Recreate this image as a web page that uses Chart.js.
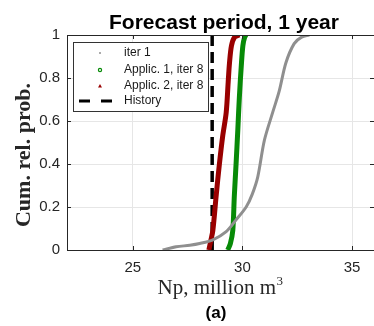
<!DOCTYPE html>
<html>
<head>
<meta charset="utf-8">
<script src="https://cdn.jsdelivr.net/npm/chart.js@4"></script>
<style>
  html, body { margin: 0; padding: 0; background: #fff; }
  #wrap { position: relative; width: 374px; height: 326px; }
</style>
</head>
<body>
<div id="wrap"><canvas id="cdfChart" width="374" height="326"></canvas></div>
<script>
// ===== Cumulative production CDFs, 1 year forecast =====

const xTicks = [25, 30, 35];
const yTicks = [0, 0.2, 0.4, 0.6, 0.8, 1];

// iter 1 ensemble (gray)
const iter1Np = [26.36, 26.98, 27.6, 28.05, 28.65, 29.26, 29.71, 30.17, 30.45, 30.7, 31.0, 31.38, 31.68, 31.98, 32.36, 32.7, 33.05];
const iter1Prob = [0, 0.015, 0.022, 0.03, 0.047, 0.085, 0.14, 0.2, 0.26, 0.34, 0.51, 0.64, 0.74, 0.87, 0.96, 0.99, 1.0];

// Application 1, iter 8 (green)
const app1Np = [29.33, 29.45, 29.56, 29.63, 29.71, 29.79, 29.86, 29.95, 30.02, 30.1, 30.17];
const app1Prob = [0, 0.03, 0.09, 0.25, 0.4, 0.56, 0.71, 0.86, 0.95, 0.99, 1.0];

// Application 2, iter 8 (dark red)
const app2Np = [28.47, 28.55, 28.65, 28.8, 28.95, 29.1, 29.26, 29.35, 29.41, 29.5, 29.64, 29.86];
const app2Prob = [0, 0.04, 0.09, 0.25, 0.4, 0.53, 0.64, 0.78, 0.87, 0.95, 0.99, 1.0];

// observed history
const historyNp = 28.62;
const historyProb = [0, 1];

const legendItems = ['iter 1', 'Applic. 1, iter 8', 'Applic. 2, iter 8', 'History'];

const GRAY = '#8f8f8f';
const GREEN = '#078a07';
const RED = '#990000';
const AXIS = '#262626';

const toPts = (xs, ys) => xs.map((x, i) => ({ x, y: ys[i] }));

// box, inner ticks, titles and legend drawn over the plot
const decor = {
  id: 'decor',
  afterDatasetsDraw(chart) {
    const { ctx, chartArea: a, scales } = chart;
    const xs = scales.x, ys = scales.y;
    ctx.save();
    ctx.strokeStyle = AXIS;
    ctx.lineWidth = 1;
    ctx.beginPath();
    ctx.moveTo(a.left + 0.5, a.top + 0.5);
    ctx.lineTo(a.right + 0.5, a.top + 0.5);
    ctx.moveTo(a.left + 0.5, a.top);
    ctx.lineTo(a.left + 0.5, a.bottom + 0.5);
    ctx.lineTo(a.right, a.bottom + 0.5);
    xTicks.forEach(v => {
      const px = Math.round(xs.getPixelForValue(v)) + 0.5;
      ctx.moveTo(px, a.bottom); ctx.lineTo(px, a.bottom - 4);
      ctx.moveTo(px, a.top); ctx.lineTo(px, a.top + 4);
    });
    yTicks.forEach(v => {
      const py = Math.round(ys.getPixelForValue(v)) + 0.5;
      ctx.moveTo(a.left, py); ctx.lineTo(a.left + 4, py);
      ctx.moveTo(a.right, py); ctx.lineTo(a.right - 4, py);
    });
    ctx.stroke();

    // legend box
    const lx = 73, ly = 42, lw = 135, lh = 69;
    ctx.fillStyle = '#fff';
    ctx.fillRect(lx, ly, lw, lh);
    ctx.strokeStyle = '#333';
    ctx.strokeRect(lx + 0.5, ly + 0.5, lw, lh);
    ctx.font = '12px "Liberation Sans", Arial, sans-serif';
    ctx.textBaseline = 'middle';
    ctx.textAlign = 'left';
    const rows = [53, 70, 86, 101];
    legendItems.forEach((label, i) => {
      const y = rows[i];
      if (i === 0) {
        ctx.fillStyle = GRAY;
        ctx.beginPath(); ctx.arc(100, y, 1, 0, Math.PI * 2); ctx.fill();
      } else if (i === 1) {
        ctx.strokeStyle = GREEN; ctx.lineWidth = 1.2;
        ctx.beginPath(); ctx.arc(100, y, 1.6, 0, Math.PI * 2); ctx.stroke();
      } else if (i === 2) {
        ctx.fillStyle = RED;
        ctx.beginPath(); ctx.moveTo(100, y - 2); ctx.lineTo(102, y + 1.5); ctx.lineTo(98, y + 1.5); ctx.closePath(); ctx.fill();
      } else {
        ctx.strokeStyle = '#000'; ctx.lineWidth = 3;
        ctx.beginPath();
        ctx.moveTo(79, y); ctx.lineTo(90, y);
        ctx.moveTo(101, y); ctx.lineTo(112, y);
        ctx.stroke();
      }
      ctx.fillStyle = '#1a1a1a';
      ctx.fillText(label, 124, y);
    });

    // title
    ctx.fillStyle = '#000';
    ctx.textAlign = 'center';
    ctx.textBaseline = 'alphabetic';
    ctx.font = 'bold 21px "Liberation Sans", Arial, sans-serif';
    ctx.fillText('Forecast period, 1 year', 224, 29);

    // x axis label
    ctx.fillStyle = '#262626';
    const base = 'Np, million m';
    ctx.font = '21px "Liberation Serif", "DejaVu Serif", serif';
    const bw = ctx.measureText(base).width;
    ctx.font = '13px "Liberation Serif", serif';
    const sw = ctx.measureText('3').width;
    const sx = 220 - (bw + sw) / 2;
    ctx.textAlign = 'left';
    ctx.font = '21px "Liberation Serif", "DejaVu Serif", serif';
    ctx.fillText(base, sx, 294);
    ctx.font = '13px "Liberation Serif", serif';
    ctx.fillText('3', sx + bw + 0.5, 285);

    // y axis label
    ctx.save();
    ctx.translate(30, 155);
    ctx.rotate(-Math.PI / 2);
    ctx.textAlign = 'center';
    ctx.font = 'bold 22px "Liberation Serif", "DejaVu Serif", serif';
    ctx.fillStyle = '#262626';
    ctx.fillText('Cum. rel. prob.', 0, 0);
    ctx.restore();

    // panel tag
    ctx.textAlign = 'center';
    ctx.fillStyle = '#000';
    ctx.font = 'bold 17px "Liberation Sans", Arial, sans-serif';
    ctx.fillText('(a)', 216, 318);
    ctx.restore();
  }
};

new Chart(document.getElementById('cdfChart').getContext('2d'), {
  type: 'scatter',
  data: {
    datasets: [
      { label: legendItems[0], data: toPts(iter1Np, iter1Prob), showLine: true, borderColor: GRAY, borderWidth: 3, pointRadius: 0, tension: 0.3 },
      { label: legendItems[1], data: toPts(app1Np, app1Prob), showLine: true, borderColor: GREEN, borderWidth: 5, pointRadius: 0, tension: 0.3 },
      { label: legendItems[2], data: toPts(app2Np, app2Prob), showLine: true, borderColor: RED, borderWidth: 5, pointRadius: 0, tension: 0.3 },
      { label: legendItems[3], data: historyProb.map(p => ({ x: historyNp, y: p })), showLine: true, borderColor: '#000', borderWidth: 3.5, borderDash: [11, 6], pointRadius: 0 }
    ]
  },
  plugins: [decor],
  options: {
    responsive: false,
    animation: false,
    layout: { padding: { top: 35, right: 0, left: 0, bottom: 0 } },
    plugins: { legend: { display: false }, tooltip: { enabled: false } },
    scales: {
      x: {
        type: 'linear', min: 22, max: 36,
        afterBuildTicks: s => { s.ticks = xTicks.map(v => ({ value: v })); },
        afterFit: s => { s.height = 76; },
        grid: { color: '#e6e6e6', drawTicks: false },
        border: { display: false },
        ticks: { color: '#262626', font: { family: '"Liberation Sans", Arial', size: 15 }, padding: 9, maxRotation: 0, callback: v => String(v) }
      },
      y: {
        type: 'linear', min: 0, max: 1,
        afterBuildTicks: s => { s.ticks = yTicks.map(v => ({ value: v })); },
        afterFit: s => { s.width = 67; },
        grid: { color: '#e6e6e6', drawTicks: false },
        border: { display: false },
        ticks: { color: '#262626', font: { family: '"Liberation Sans", Arial', size: 15 }, padding: 7, callback: v => String(v) }
      }
    }
  }
});
</script>
</body>
</html>
